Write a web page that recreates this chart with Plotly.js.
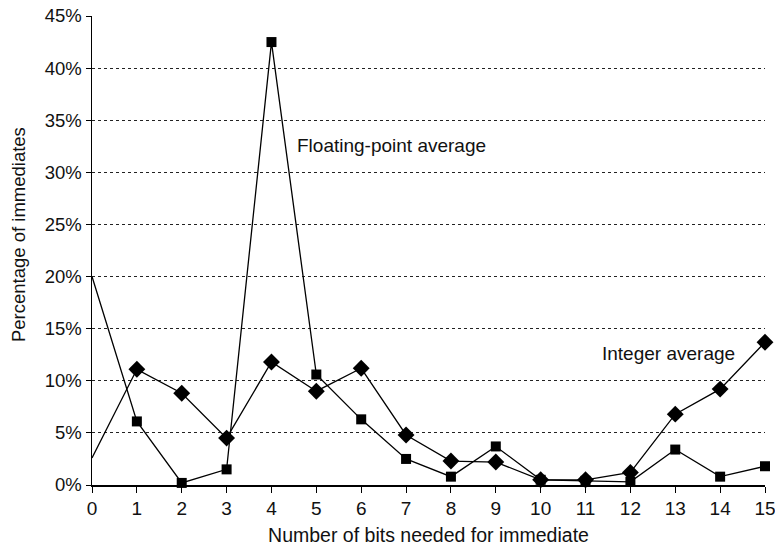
<!DOCTYPE html>
<html>
<head>
<meta charset="utf-8">
<script src="https://cdn.plot.ly/plotly-3.0.1.min.js"></script>
<style>html,body{margin:0;padding:0;background:#fff;}#chart{width:775px;height:553px;}</style>
</head>
<body>
<div id="chart"></div>
<script>
const bits = [0,1,2,3,4,5,6,7,8,9,10,11,12,13,14,15];
const floatingPoint = [20.0,6.1,0.2,1.5,42.5,10.6,6.3,2.5,0.8,3.7,0.5,0.4,0.3,3.4,0.8,1.8];
const integerAvg = [2.6,11.1,8.8,4.5,11.8,9.0,11.2,4.8,2.3,2.2,0.5,0.5,1.2,6.8,9.2,13.7];
const yTicks = [0,5,10,15,20,25,30,35,40,45];

const hideFirst = (s) => bits.map((b, i) => i === 0 ? 0 : s);

const traces = [
  {
    x: bits, y: floatingPoint, type: 'scatter', mode: 'lines+markers',
    name: 'Floating-point average',
    line: {color: '#000', width: 1.3},
    marker: {symbol: 'square', size: hideFirst(10), color: '#000', opacity: 1, line: {width: 0, color: '#000'}},
    cliponaxis: false
  },
  {
    x: bits, y: integerAvg, type: 'scatter', mode: 'lines+markers',
    name: 'Integer average',
    line: {color: '#000', width: 1.3},
    marker: {symbol: 'diamond', size: hideFirst(13), color: '#000', opacity: 1, line: {width: 0, color: '#000'}},
    cliponaxis: false
  }
];

const layout = {
  width: 775, height: 553,
  margin: {l: 92, r: 10, t: 16, b: 68},
  paper_bgcolor: '#fff', plot_bgcolor: '#fff',
  showlegend: false,
  font: {family: 'Liberation Sans, Arial, sans-serif', color: '#111', size: 19},
  xaxis: {
    range: [0, 15], tickvals: bits, ticktext: bits.map(String),
    showgrid: false, zeroline: false,
    showline: true, linecolor: '#000', linewidth: 1.5,
    ticks: 'outside', ticklen: 6, tickcolor: '#000',
    tickfont: {size: 19}, ticklabeloverflow: 'allow',
    title: {text: 'Number of bits needed for immediate', font: {size: 19.5}, standoff: 10}
  },
  yaxis: {
    range: [0, 45], tickvals: yTicks, ticktext: yTicks.map(v => v + '%'),
    showgrid: true, gridcolor: '#222', griddash: 'dot', gridwidth: 1,
    zeroline: false,
    showline: true, linecolor: '#000', linewidth: 1.5,
    ticks: 'outside', ticklen: 5, tickcolor: '#000',
    tickfont: {size: 18.5}
  },
  annotations: [
    {x: -0.11, y: 0.535, xref: 'paper', yref: 'paper', text: 'Percentage of immediates', textangle: -90, showarrow: false, xanchor: 'center', yanchor: 'middle', font: {size: 18.5}},
    {x: 4.52, y: 32.6, xref: 'x', yref: 'y', text: 'Floating-point average', showarrow: false, xanchor: 'left', yanchor: 'middle', font: {size: 19}},
    {x: 11.32, y: 12.6, xref: 'x', yref: 'y', text: 'Integer average', showarrow: false, xanchor: 'left', yanchor: 'middle', font: {size: 19}}
  ]
};

Plotly.newPlot('chart', traces, layout, {displayModeBar: false, staticPlot: true});
</script>
</body>
</html>
